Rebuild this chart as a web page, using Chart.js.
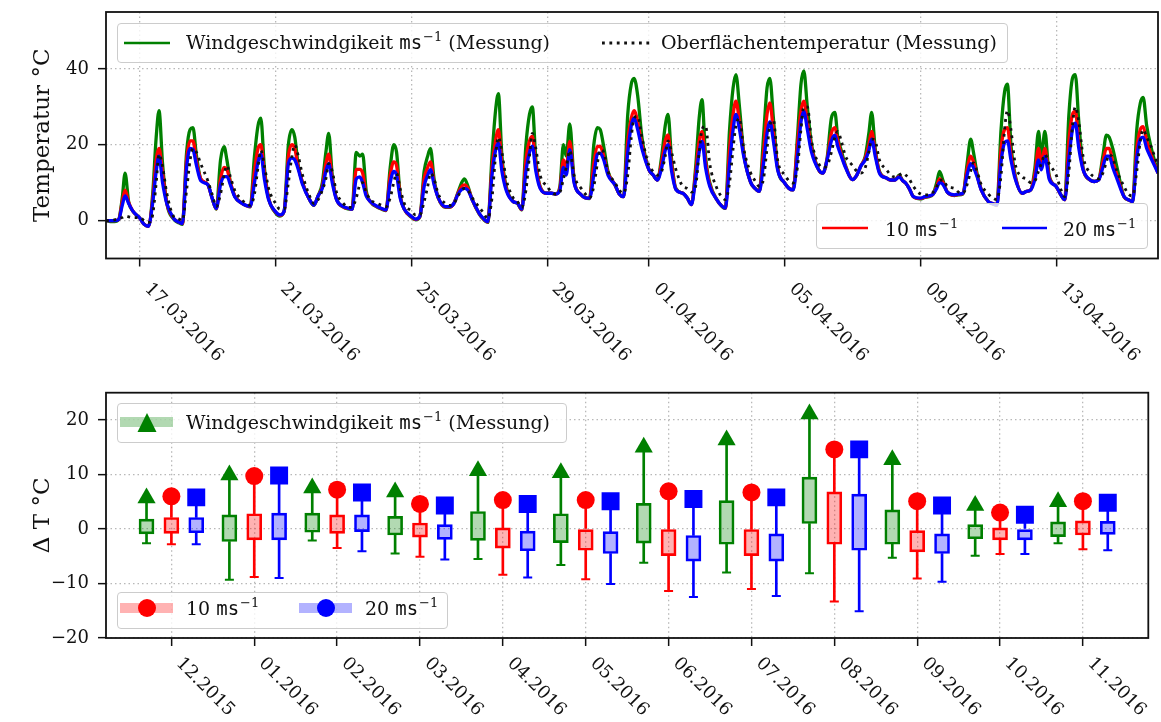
<!DOCTYPE html>
<html>
<head>
<meta charset="utf-8">
<script src="https://cdn.jsdelivr.net/npm/chart.js@4.4.1/dist/chart.umd.min.js"></script>
<style>
  body { margin: 0; background: #fff; }
  #wrap { position: relative; width: 1161px; height: 722px; font-family: 'DejaVu Serif', serif; color: #111; }
  canvas { position: absolute; left: 0; }
  .leg { position: absolute; border: 1px solid #cccccc; border-radius: 4px; background: rgba(255,255,255,0.8); box-sizing: border-box; }
  .lt { position: absolute; font-size: 19px; line-height: 19px; white-space: nowrap; }
  .tt { font-family: 'DejaVu Sans Mono', monospace; }
  .sup { font-size: 13px; position: relative; top: -8px; margin-left: 1px; }
  #handles { position: absolute; left: 0; top: 0; }
</style>
</head>
<body>
<div id="wrap">
  <canvas id="tempChart" width="1161" height="380" style="top:0"></canvas>
  <canvas id="boxChart" width="1161" height="342" style="top:380px"></canvas>

  <div class="leg" style="left:117px;top:23px;width:891px;height:40px"></div>
  <div class="leg" style="left:816px;top:203px;width:332px;height:46px"></div>
  <div class="leg" style="left:117px;top:403px;width:450px;height:40px"></div>
  <div class="leg" style="left:117px;top:592px;width:331px;height:37px"></div>

  <svg id="handles" width="1161" height="722">
    <line x1="124" y1="43" x2="170" y2="43" stroke="#008000" stroke-width="2.5"/>
    <line x1="602" y1="43" x2="650" y2="43" stroke="#111" stroke-width="2.8" stroke-dasharray="2.8 4.6"/>
    <line x1="822" y1="228" x2="868" y2="228" stroke="#ff0000" stroke-width="2.5"/>
    <line x1="1002" y1="228" x2="1047" y2="228" stroke="#0000ff" stroke-width="2.5"/>
    <rect x="120" y="417" width="53" height="10" fill="rgba(0,128,0,0.3)"/>
    <polygon points="147,413 137.5,432 156.5,432" fill="#008000"/>
    <rect x="120" y="603" width="53" height="10" fill="rgba(255,0,0,0.3)"/>
    <circle cx="147" cy="608" r="9" fill="#ff0000"/>
    <rect x="299" y="603" width="53" height="10" fill="rgba(0,0,255,0.3)"/>
    <circle cx="326" cy="608" r="9" fill="#0000ff"/>
  </svg>

  <div class="lt" style="left:186px;top:33px">Windgeschwindgikeit <span class="tt">ms</span><span class="sup">−1</span> (Messung)</div>
  <div class="lt" style="left:661px;top:33px">Oberflächentemperatur (Messung)</div>
  <div class="lt" style="left:885px;top:220px">10 <span class="tt">ms</span><span class="sup">−1</span></div>
  <div class="lt" style="left:1063px;top:220px">20 <span class="tt">ms</span><span class="sup">−1</span></div>
  <div class="lt" style="left:186px;top:413px">Windgeschwindgikeit <span class="tt">ms</span><span class="sup">−1</span> (Messung)</div>
  <div class="lt" style="left:186px;top:599px">10 <span class="tt">ms</span><span class="sup">−1</span></div>
  <div class="lt" style="left:365px;top:599px">20 <span class="tt">ms</span><span class="sup">−1</span></div>
</div>

<script>
// ---- top panel: days since 16.03.2016 00:00, 8 readings per day ----
const nDays = 31;
const dayHours = [0, 3, 6, 9, 11.5, 13.5, 16, 19];
const dateTickDays = [1, 5, 9, 13, 16, 20, 24, 28];
const dateTickLabels = ['17.03.2016', '21.03.2016', '25.03.2016', '29.03.2016',
                        '01.04.2016', '05.04.2016', '09.04.2016', '13.04.2016'];
const tempTicks = [0, 20, 40];

const tempMessung = [
  0, -0.3, -0.3, 0.3, 6, 12.5, 5, 2.5,
  0.6, -1, -1.5, 7, 22, 29, 15, 4.6,
  0.3, -0.5, -1, 18, 24, 24.5, 17, 11,
  9.5, 6, 3, 16, 19.5, 16, 10, 6.5,
  4.6, 4, 3.6, 17, 25, 27, 14, 6,
  2, 1.2, 2.5, 20, 24, 22, 14.5, 10,
  5.5, 4, 6.5, 10, 18, 23, 12, 5.8,
  3.5, 3.1, 3, 18, 17, 17.5, 8, 5,
  3.5, 3, 2.6, 14, 20, 18, 7, 3,
  0.9, 0.2, 1, 13, 17, 19, 11, 6,
  3.5, 3.5, 4.5, 7.5, 10, 11, 9, 5.5,
  1.7, 0.3, -0.5, 17, 29, 33.5, 17, 9,
  5, 4.5, 2.8, 20, 28, 30, 16, 9,
  7.2, 7.2, 7, 9, 20, 17, 25.5, 11,
  6.8, 6, 5.8, 20, 24.5, 24, 19.5, 13,
  9.4, 7, 6.3, 28, 36, 37.5, 33, 22,
  13.4, 12, 10.7, 17, 25, 28, 16, 8.5,
  7.2, 6, 4.2, 14, 27, 31.9, 17, 10,
  5.5, 4, 3.2, 24, 35, 38.5, 30, 18,
  10, 8.5, 7.7, 22, 35, 37.5, 27, 14,
  9.9, 8.5, 8.1, 22, 36, 39.5, 30, 20,
  13.4, 12.5, 16.5, 27, 28.5, 22, 18.5, 14.5,
  10.8, 12, 14.5, 17, 23, 28.5, 19, 13,
  11.2, 10.7, 10.7, 12, 10.5, 9.9, 8.5, 6.3,
  5.7, 6.1, 6.3, 7, 10, 13, 10.5, 7.5,
  6.6, 6.8, 7, 15, 21.5, 18, 12.5, 8.2,
  5, 4.4, 4, 24, 34, 36, 20, 12,
  7.2, 7.7, 8.1, 14, 23.5, 17, 23.5, 12,
  9, 7, 5.5, 28, 37.5, 38.5, 26, 14,
  10.7, 10.3, 10.7, 17, 22.5, 22, 19, 14,
  6.3, 5.5, 5, 24, 31, 32.5, 25, 19.5,
  12.5
];
const temp10 = [
  0, 0, 0, 0.3, 5, 8, 4.8, 2.5,
  0.6, -1, -1.5, 5.5, 16, 19, 12.5, 4.6,
  0.5, -0.3, -0.8, 16, 21, 21, 15.5, 11,
  9.5, 6, 3.1, 11, 14, 13.5, 10, 6.5,
  4.6, 4, 3.7, 13, 19, 20, 12.5, 5.8,
  2.2, 1.4, 2.5, 17, 20, 19, 14, 10,
  5.5, 4.1, 6.5, 9, 15, 17.5, 11, 5.6,
  3.6, 3.2, 3, 13.5, 13.5, 12.5, 7, 5,
  3.6, 3.1, 2.7, 12, 15.5, 14.5, 6.5, 3,
  1, 0.3, 1.1, 11, 14, 15.5, 10, 6,
  3.6, 3.6, 4.5, 7.2, 9, 9.4, 8.5, 5.5,
  1.8, 0.4, -0.4, 14, 21, 24, 15, 8.5,
  5, 4.6, 2.9, 16, 21, 22.2, 14.5, 8.8,
  7.2, 7.2, 7, 8.5, 16, 14, 20.9, 10.5,
  6.8, 6, 5.9, 15, 19.5, 19.6, 17, 12.5,
  9.4, 7, 6.3, 21, 27, 29, 26, 20,
  13.4, 12, 10.7, 15.5, 21, 22.6, 14.5, 8.3,
  7.2, 6, 4.2, 12.5, 21, 23.5, 15.5, 9.5,
  5.5, 4, 3.3, 19, 28, 31.5, 26, 17.5,
  10, 8.5, 7.7, 18, 28, 31, 23.5, 13.8,
  9.9, 8.5, 8.1, 20, 29, 31.5, 26, 19,
  13.4, 12.5, 16.2, 23, 24.5, 21, 17.5, 14.2,
  10.8, 12, 14.5, 16.5, 20, 23.5, 18, 12.7,
  11.2, 10.7, 10.7, 11.7, 10.5, 9.9, 8.5, 6.3,
  5.8, 6.2, 6.4, 7, 9, 11, 10, 7.5,
  6.7, 6.9, 7.1, 13.5, 17, 15.5, 12, 8.1,
  5, 4.5, 4.1, 19, 24, 24.5, 17.5, 11.5,
  7.2, 7.7, 8.1, 12.5, 19, 15, 19, 11.5,
  9, 7, 5.5, 21, 28, 28.8, 21, 13.6,
  10.7, 10.3, 10.7, 15.5, 19, 19, 15.5, 12,
  6.3, 5.5, 5, 19, 24, 24.8, 21, 17.5,
  12.5
];
const temp20 = [
  0, 0, 0, 0.3, 4, 6.5, 4.5, 2.5,
  0.6, -1, -1.5, 4.6, 13, 17, 10, 4.5,
  0.5, -0.3, -0.8, 14, 19, 18.7, 14.5, 10.5,
  9.5, 6, 3.2, 9.5, 11.6, 11.6, 9.4, 6.3,
  4.6, 4, 3.8, 10, 15.5, 17.5, 11, 5.5,
  2.3, 1.5, 2.5, 15, 16.5, 16, 13.5, 9.5,
  5.5, 4.1, 6.5, 8.5, 13, 15, 10, 5.5,
  3.7, 3.3, 3, 11, 11.5, 10, 6.5, 5,
  3.7, 3.2, 2.8, 10, 13, 12, 6, 3,
  1.1, 0.4, 1.2, 9, 12, 13.4, 9.5, 6,
  3.7, 3.7, 4.5, 7, 8.2, 8.5, 8, 5.5,
  1.9, 0.5, -0.3, 12, 18.5, 20.4, 13, 8,
  5, 4.6, 3, 13, 18, 19.6, 13, 8.5,
  7.2, 7.2, 7, 8, 14, 12, 18.7, 10,
  6.8, 6, 5.9, 12, 17.5, 17.8, 16, 12,
  9.4, 7, 6.3, 18, 25, 27, 24, 19,
  13.4, 12, 10.7, 14, 18.5, 20, 13, 8.2,
  7.2, 6, 4.2, 11, 18, 20.9, 14, 9,
  5.5, 4, 3.3, 15, 24, 28, 24, 17,
  10, 8.5, 7.7, 15, 23, 26, 21, 13.4,
  9.9, 8.5, 8.1, 17, 26, 28.8, 24, 18,
  13.4, 12.5, 16, 21, 22.5, 19.6, 17, 14,
  10.8, 12, 14.5, 16, 18.5, 21.5, 17, 12.5,
  11.2, 10.7, 10.7, 11.5, 10.5, 9.9, 8.5, 6.3,
  5.9, 6.3, 6.5, 7, 8.5, 10, 9.5, 7.5,
  6.8, 7, 7.2, 12, 15, 14, 11.6, 8,
  5, 4.5, 4.1, 15.5, 20.5, 21, 16, 11,
  7.2, 7.7, 8.1, 11, 16, 13.4, 16.9, 11,
  9, 7, 5.5, 16.5, 24, 25.7, 19, 13.4,
  10.7, 10.3, 10.7, 14, 17, 17, 14, 11,
  6.3, 5.5, 5, 16.5, 21.5, 22, 19, 16.5,
  12.5
];
const tempOberflaeche = [
  0, 0, 0.2, 0.5, 0.8, 1.2, 1.0, 0.8,
  0.8, 0, -0.5, 1.5, 9.9, 17.5, 14.3, 7.2,
  1, 0.5, 0, 8, 16, 19, 18, 15,
  10.5, 7, 3.7, 7, 12, 14.5, 11.5, 8,
  5.5, 4.5, 4, 7, 14, 18.5, 14.5, 8.5,
  4.5, 3, 3, 10, 17, 20, 17, 12,
  6.5, 4.5, 5.5, 8, 11, 15, 13, 7.5,
  4.5, 3.5, 3.5, 6, 9.5, 10, 7.5, 5.5,
  4.5, 4, 3.6, 6, 10, 12.5, 8.5, 4.5,
  2.5, 1.5, 1.5, 5, 9, 12.5, 11, 7,
  4.5, 4, 4.5, 6.5, 8, 8.5, 8, 6,
  3.5, 2, 0.5, 6, 17, 22, 18, 11,
  6, 5, 3.5, 8, 17, 23, 19, 12,
  9, 7.5, 7, 7.5, 11, 14, 18.5, 12,
  8.5, 7, 6, 9, 15, 18.7, 18, 13,
  10, 8, 7.2, 12, 22, 27, 27.5, 22,
  14.5, 13, 12, 13, 17, 21, 18, 13.5,
  9, 8.5, 7.5, 9, 18, 24, 25, 15,
  8.5, 6.5, 5.5, 10, 19, 25, 27, 19,
  12.5, 10.5, 9, 11, 19, 25, 26.5, 16,
  12, 10.5, 9.9, 14, 24, 30, 30, 21,
  15, 14, 14.5, 18, 22, 23.5, 21, 17,
  14.5, 13, 12.5, 14, 18, 21.5, 21, 16,
  13.4, 12, 11.5, 12, 12.5, 12, 11, 9,
  7, 6.8, 6.8, 7.5, 9, 10.5, 10.7, 9,
  8.5, 7.5, 7.2, 9.5, 13, 15.2, 13, 9.5,
  7, 6, 5.5, 12, 24, 29, 24, 15,
  11.5, 11, 10, 10.5, 13, 15, 17.5, 15,
  12, 8.5, 6.3, 13, 25, 30, 26, 17,
  12.5, 11.5, 11, 12.5, 15.5, 17.4, 16.5, 13,
  9, 7, 6.5, 13, 21, 24, 22, 19.6,
  14.3
];

// ---- bottom panel: monthly Delta T statistics ----
const monthLabels = ['12.2015', '01.2016', '02.2016', '03.2016', '04.2016', '05.2016',
                     '06.2016', '07.2016', '08.2016', '09.2016', '10.2016', '11.2016'];
const dTempTicks = [-20, -10, 0, 10, 20];

const messMax = [5.7, 9.9, 7.5, 6.8, 10.7, 10.3, 15.0, 16.3, 21.1, 12.7, 4.3, 5.0];
const messQ3  = [1.8, 2.6, 2.9, 2.3, 3.2, 2.8, 4.7, 5.2, 9.5, 3.5, 0.8, 1.3];
const messQ1  = [-0.9, -2.3, -0.6, -1.1, -2.1, -2.5, -2.6, -2.8, 1.0, -2.8, -1.8, -1.4];
const messMin = [-2.6, -9.3, -2.1, -4.5, -5.5, -6.6, -6.2, -8.0, -8.1, -5.3, -4.9, -2.6];

const w10Max = [6.0, 9.7, 7.2, 4.6, 5.3, 5.3, 6.9, 6.7, 14.6, 5.1, 3.0, 5.1];
const w10Q3  = [2.1, 2.8, 2.6, 1.1, 0.2, 0.0, -0.1, -0.1, 6.8, -0.3, 0.2, 1.5];
const w10Q1  = [-0.8, -2.0, -0.8, -1.5, -3.5, -3.9, -4.9, -4.9, -2.8, -4.2, -2.0, -1.1];
const w10Min = [-2.8, -8.8, -3.5, -5.1, -8.4, -9.2, -11.4, -11.0, -13.3, -9.1, -4.6, -3.7];

const w20Max = [5.8, 9.8, 6.7, 4.3, 4.6, 5.1, 5.5, 5.8, 14.6, 4.3, 2.6, 4.8];
const w20Q3  = [2.1, 2.9, 2.6, 0.8, -0.4, -0.5, -1.2, -0.9, 6.4, -0.9, 0.0, 1.4];
const w20Q1  = [-0.7, -2.0, -0.5, -1.9, -4.0, -4.5, -5.9, -5.9, -3.9, -4.5, -2.0, -1.0];
const w20Min = [-2.8, -9.0, -4.1, -5.6, -8.9, -10.1, -12.5, -12.3, -15.1, -9.7, -4.6, -3.9];

Chart.defaults.font.family = "'DejaVu Serif', serif";
Chart.defaults.color = '#111';

const GRID = { color: '#b8b8b8', lineWidth: 1.3, tickColor: '#111', tickWidth: 1.5, tickLength: 8 };
const GRID_DASH = { display: false, dash: [1.5, 3] };
const minusSign = v => String(v).replace('-', '\u2212');
// pin the y axis box so the plot area sits where the reference has it
const fixY = s => { s.width = 106; s.paddingTop = 0; s.paddingBottom = 0; };

// black frame around the plot area
const framePlugin = {
    id: 'frame',
    afterDatasetsDraw(chart) {
        const { ctx, chartArea: a } = chart;
        ctx.save();
        ctx.strokeStyle = '#111';
        ctx.lineWidth = 1.8;
        ctx.strokeRect(a.left, a.top, a.right - a.left, a.bottom - a.top);
        ctx.restore();
    }
};

// x tick labels turned 45 degrees clockwise, hanging from the tick
const slantLabels = {
    id: 'slantLabels',
    afterDraw(chart, args, opts) {
        const { ctx, scales: { x }, chartArea } = chart;
        ctx.save();
        ctx.font = "18px 'DejaVu Serif'";
        ctx.fillStyle = '#111';
        ctx.textAlign = 'left';
        ctx.textBaseline = 'alphabetic';
        opts.values.forEach((v, i) => {
            ctx.save();
            ctx.translate(x.getPixelForValue(v) + opts.dx, chartArea.bottom + opts.dy);
            ctx.rotate(Math.PI / 4);
            ctx.fillText(opts.labels[i], 0, 0);
            ctx.restore();
        });
        ctx.restore();
    }
};

// ---- top chart ----
const timeX = [];
for (let d = 0; d < nDays; d++) dayHours.forEach(h => timeX.push(d + h / 24));
timeX.push(nDays);
const pts = arr => arr.map((v, i) => ({ x: timeX[i], y: v }));

function lineSet(data, color, order, dash) {
    return {
        data: pts(data), borderColor: color, borderWidth: dash ? 2.8 : 3.3,
        borderDash: dash || [], pointRadius: 0, fill: false,
        cubicInterpolationMode: 'monotone', borderJoinStyle: 'round', order: order
    };
}

new Chart(document.getElementById('tempChart'), {
    type: 'line',
    data: {
        datasets: [
            lineSet(tempMessung, '#008000', 3),
            lineSet(temp10, '#ff0000', 2),
            lineSet(temp20, '#0000ff', 1),
            lineSet(tempOberflaeche, '#111111', 0, [2.8, 4.6])
        ]
    },
    options: {
        responsive: false, animation: false, devicePixelRatio: 1,
        layout: { padding: { top: 12, right: 3, left: 0, bottom: 0 } },
        plugins: {
            legend: { display: false }, tooltip: { enabled: false },
            slantLabels: { values: dateTickDays, labels: dateTickLabels, dx: 4, dy: 31 }
        },
        scales: {
            x: {
                type: 'linear', min: 0, max: nDays,
                afterBuildTicks: s => { s.ticks = dateTickDays.map(v => ({ value: v })); },
                afterFit: s => { s.height = 121.5; },
                ticks: { display: false },
                grid: GRID, border: GRID_DASH
            },
            y: {
                min: -10, max: 55,
                afterBuildTicks: s => { s.ticks = tempTicks.map(v => ({ value: v })); },
                afterFit: fixY,
                ticks: { font: { size: 18 }, padding: 9, callback: minusSign },
                grid: GRID, border: GRID_DASH,
                title: { display: true, text: 'Temperatur °C', font: { size: 23 }, padding: { top: 29, bottom: 0 } }
            }
        }
    },
    plugins: [framePlugin, slantLabels]
});

// ---- bottom chart ----
const monthX = monthLabels.map((_, i) => i);
const shift = 0.3;

function boxSets(mx, q3, q1, mn, off, color, fill, style, radius) {
    const at = (arr, f) => arr.map((v, i) => ({ x: monthX[i] + off, y: f(v, i) }));
    return [
        { type: 'bar', data: at(mn, (v, i) => [v, q1[i]]), backgroundColor: color, barThickness: 2, grouped: false, order: 3 },
        { type: 'bar', data: at(q3, (v, i) => [v, mx[i]]), backgroundColor: color, barThickness: 2, grouped: false, order: 3 },
        { type: 'bar', data: at(q1, (v, i) => [v, q3[i]]), backgroundColor: fill, borderColor: color, borderWidth: 2,
          borderSkipped: false, barThickness: 15, grouped: false, order: 2 },
        { type: 'line', data: at(mn, v => v), showLine: false, pointStyle: 'line', pointRadius: 4.5,
          borderColor: color, pointBorderWidth: 2, order: 1 },
        { type: 'line', data: at(mx, v => v), showLine: false, pointStyle: style, pointRadius: radius,
          backgroundColor: color, pointBackgroundColor: color, pointBorderWidth: 0, order: 0 }
    ];
}

new Chart(document.getElementById('boxChart'), {
    type: 'bar',
    data: {
        datasets: [
            ...boxSets(messMax, messQ3, messQ1, messMin, -shift, '#008000', 'rgba(0,128,0,0.3)', 'triangle', 10.5),
            ...boxSets(w10Max, w10Q3, w10Q1, w10Min, 0, '#ff0000', 'rgba(255,0,0,0.3)', 'circle', 9),
            ...boxSets(w20Max, w20Q3, w20Q1, w20Min, shift, '#0000ff', 'rgba(0,0,255,0.3)', 'rect', 12.7)
        ]
    },
    options: {
        responsive: false, animation: false, devicePixelRatio: 1,
        layout: { padding: { top: 12, right: 3, left: 0, bottom: 0 } },
        plugins: {
            legend: { display: false }, tooltip: { enabled: false },
            slantLabels: { values: monthX, labels: monthLabels, dx: 4, dy: 26 }
        },
        scales: {
            x: {
                type: 'linear', min: -0.789, max: 11.789, offset: false,
                afterBuildTicks: s => { s.ticks = monthX.map(v => ({ value: v })); },
                afterFit: s => { s.height = 84; },
                ticks: { display: false },
                grid: { ...GRID, offset: false }, border: GRID_DASH
            },
            y: {
                min: -20, max: 25,
                afterBuildTicks: s => { s.ticks = dTempTicks.map(v => ({ value: v })); },
                afterFit: fixY,
                ticks: { font: { size: 18 }, padding: 9, callback: minusSign },
                grid: GRID, border: GRID_DASH,
                title: { display: true, text: 'Δ T °C', font: { size: 23 }, padding: { top: 29, bottom: 0 } }
            }
        }
    },
    plugins: [framePlugin, slantLabels]
});
</script>
</body>
</html>
